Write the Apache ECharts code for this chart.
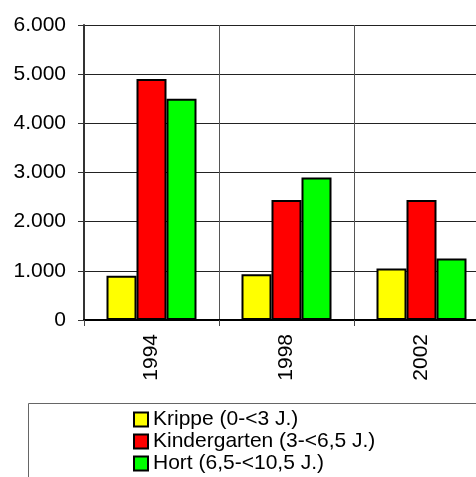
<!DOCTYPE html>
<html>
<head>
<meta charset="utf-8">
<script src="https://cdn.jsdelivr.net/npm/echarts@6/dist/echarts.min.js"></script>
<style>
  html, body { margin: 0; padding: 0; background: #fff; }
  #chart { width: 476px; height: 477px; }
</style>
</head>
<body>
<div id="chart"></div>
<script>
// Betreuungsplätze nach Einrichtungsart
const years = ['1994', '1998', '2002'];
const krippe = [900, 930, 1050];
const kindergarten = [4900, 2440, 2440];
const hort = [4500, 2900, 1250];
const seriesNames = ['Krippe (0-<3 J.)', 'Kindergarten (3-<6,5 J.)', 'Hort (6,5-<10,5 J.)'];
const seriesColors = ['#ffff00', '#ff0000', '#00ff00'];
const yTicks = [0, 1000, 2000, 3000, 4000, 5000, 6000];

const font = '"Liberation Sans", Arial, sans-serif';
const fmt = v => String(v).replace(/\B(?=(\d{3})+(?!\d))/g, '.');

const chart = echarts.init(document.getElementById('chart'), null, { renderer: 'canvas' });

const values = [krippe, kindergarten, hort];
const series = seriesNames.map((name, i) => ({
  name: name,
  type: 'bar',
  data: values[i],
  barWidth: 30,
  barGap: '0%',
  itemStyle: { color: seriesColors[i], borderColor: '#000', borderWidth: 2 }
}));

chart.setOption({
  animation: false,
  backgroundColor: '#fff',
  textStyle: { fontFamily: font },
  // plot area runs past the right edge of the canvas
  grid: { left: 84, top: 25, width: 405, height: 295, outerBoundsMode: 'none', containLabel: false },
  graphic: [{
    type: 'rect',
    shape: { x: 28.5, y: 403.5, width: 470, height: 100 },
    style: { fill: '#fff', stroke: '#666', lineWidth: 1 },
    z: -1
  }],
  legend: {
    orient: 'vertical',
    left: 133,
    top: 409,
    padding: 0,
    itemWidth: 14,
    itemHeight: 14,
    itemGap: 1,
    icon: 'rect',
    textStyle: { fontFamily: font, fontSize: 21, color: '#000', lineHeight: 21, padding: [0, 0, 0, 0] },
    data: seriesNames.map((n, i) => ({
      name: n,
      itemStyle: { color: seriesColors[i], borderColor: '#000', borderWidth: 2 }
    }))
  },
  xAxis: {
    type: 'category',
    data: years,
    boundaryGap: true,
    axisLine: { show: true, lineStyle: { color: '#000', width: 2 } },
    axisTick: { show: true, length: 6, lineStyle: { color: '#444', width: 1 } },
    splitLine: { show: true, lineStyle: { color: '#555', width: 1 } },
    axisLabel: { rotate: 90, margin: 14, fontSize: 21, color: '#000', fontFamily: font }
  },
  yAxis: {
    type: 'value',
    min: 0,
    max: yTicks[yTicks.length - 1],
    interval: yTicks[1] - yTicks[0],
    axisLine: { show: true, lineStyle: { color: '#333', width: 2 } },
    axisTick: { show: true, length: 6, lineStyle: { color: '#333', width: 1 } },
    splitLine: { show: true, lineStyle: { color: '#222', width: 1 } },
    axisLabel: { margin: 18, fontSize: 21, color: '#000', fontFamily: font, formatter: fmt }
  },
  series: series
});
</script>
</body>
</html>
